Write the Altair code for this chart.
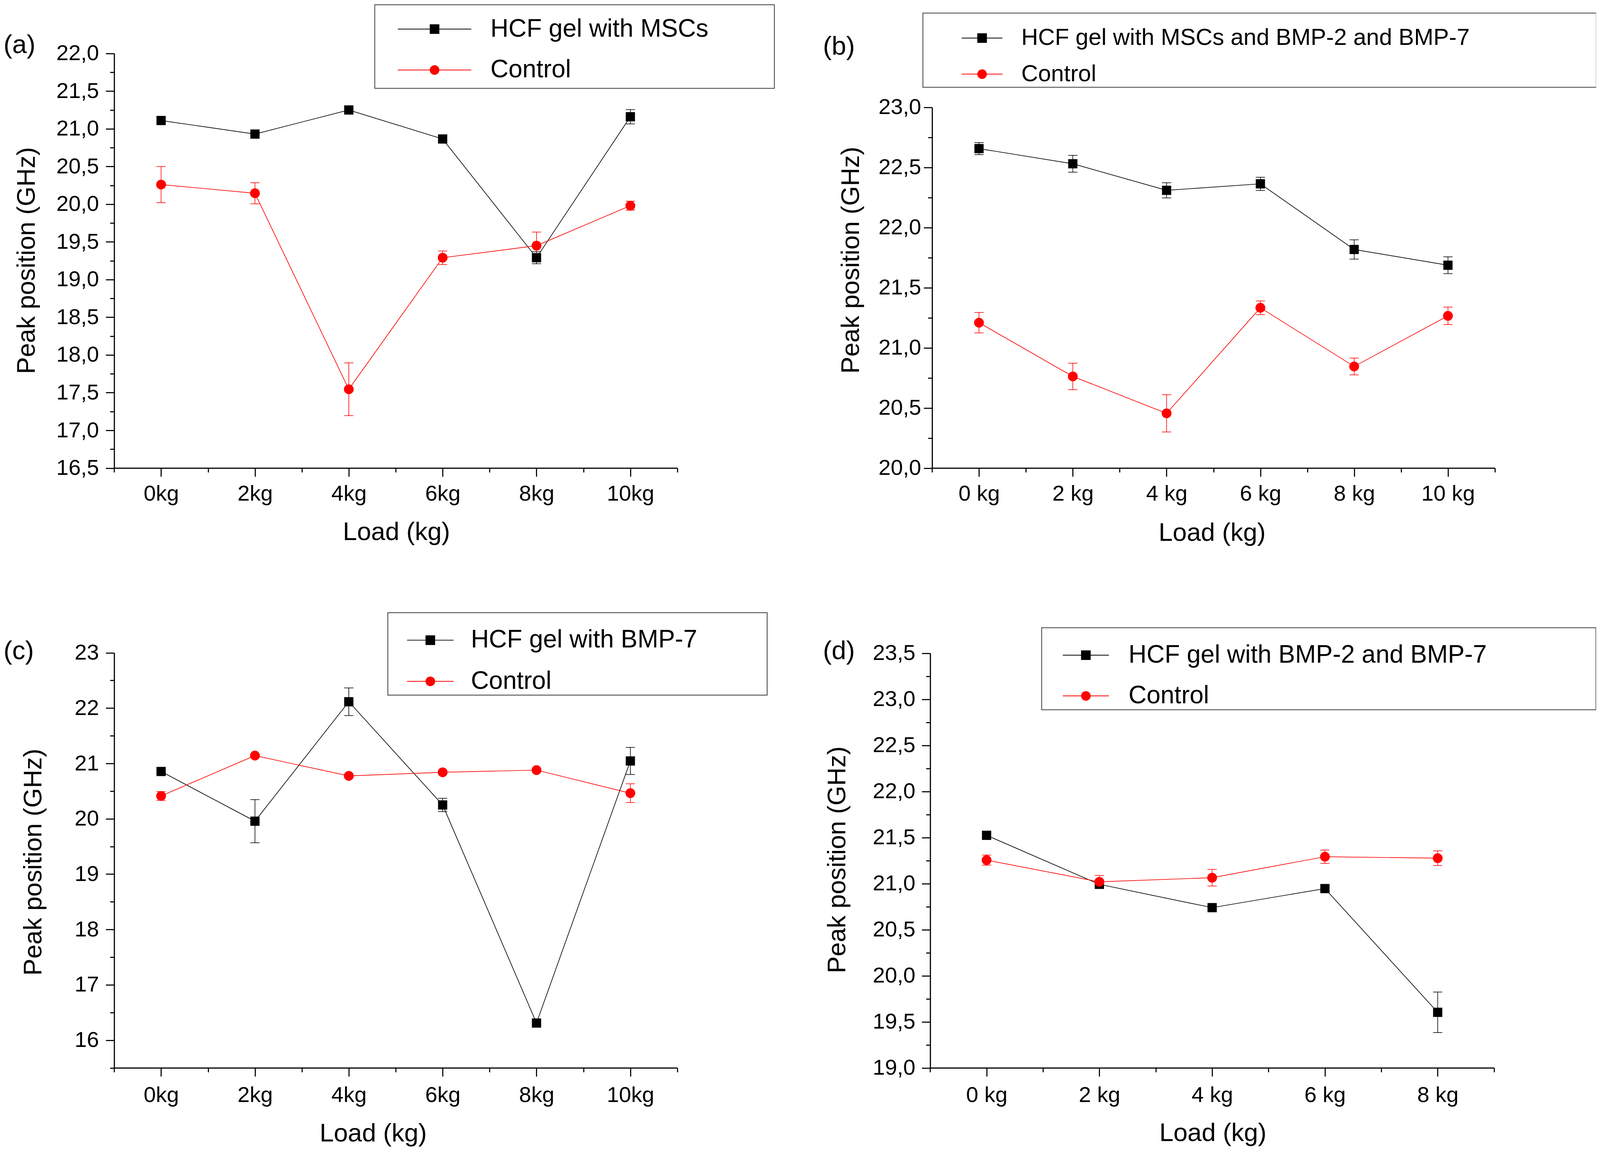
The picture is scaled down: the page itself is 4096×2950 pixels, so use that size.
import altair as alt
import pandas as pd
import numpy as np

S = 0.984
OFF = 6.0
W, H = 4078, 2932
FONT = "Liberation Sans"


def T(v):
    return round(S * v - OFF, 2)


def L(v):
    return round(S * v, 2)


# ---------------- data ----------------
loads_a = [0, 2, 4, 6, 8, 10]
names_a = ["HCF gel with MSCs", "Control"]
treat_a = [21.11, 20.93, 21.25, 20.865, 19.29, 21.16]
treat_a_err = [0.03, 0.02, 0.03, 0.03, 0.08, 0.095]
ctrl_a = [20.26, 20.145, 17.545, 19.29, 19.45, 19.98]
ctrl_a_err = [0.24, 0.14, 0.35, 0.09, 0.18, 0.06]

loads_b = [0, 2, 4, 6, 8, 10]
names_b = ["HCF gel with MSCs and BMP-2 and BMP-7", "Control"]
treat_b = [22.657, 22.531, 22.31, 22.364, 21.818, 21.687]
treat_b_err = [0.05, 0.07, 0.063, 0.055, 0.08, 0.07]
ctrl_b = [21.209, 20.762, 20.455, 21.333, 20.845, 21.266]
ctrl_b_err = [0.085, 0.11, 0.155, 0.057, 0.07, 0.073]

loads_c = [0, 2, 4, 6, 8, 10]
names_c = ["HCF gel with BMP-7", "Control"]
treat_c = [20.855, 19.957, 22.115, 20.25, 16.31, 21.045]
treat_c_err = [0.03, 0.39, 0.25, 0.12, 0.03, 0.245]
ctrl_c = [20.413, 21.142, 20.775, 20.84, 20.88, 20.463]
ctrl_c_err = [0.08, 0.03, 0.03, 0.03, 0.03, 0.17]

loads_d = [0, 2, 4, 6, 8]
names_d = ["HCF gel with BMP-2 and BMP-7", "Control"]
treat_d = [21.524, 20.992, 20.739, 20.946, 19.603]
treat_d_err = [0.02, 0.02, 0.02, 0.03, 0.22]
ctrl_d = [21.255, 21.019, 21.064, 21.292, 21.276]
ctrl_d_err = [0.055, 0.07, 0.09, 0.072, 0.08]

tags = ["(a)", "(b)", "(c)", "(d)"]
x_title = "Load (kg)"
y_title = "Peak position (GHz)"
colors = ["#000000", "#ff0000"]

ymaj_a = [round(v, 2) for v in np.arange(16.5, 22.001, 0.5)]
ymin_a = [round(v, 2) for v in np.arange(16.75, 22.0, 0.5)]
ymaj_b = [round(v, 2) for v in np.arange(20.0, 23.001, 0.5)]
ymin_b = [round(v, 2) for v in np.arange(20.25, 23.0, 0.5)]
ymaj_c = [round(v, 2) for v in np.arange(16.0, 23.001, 1.0)]
ymin_c = [round(v, 2) for v in np.arange(15.5, 23.0, 1.0)]
ymaj_d = [round(v, 2) for v in np.arange(19.0, 23.501, 0.5)]
ymin_d = [round(v, 2) for v in np.arange(19.25, 23.5, 0.5)]
xmaj_6 = [0, 2, 4, 6, 8, 10]
xmin_6 = [-1, 1, 3, 5, 7, 9, 11]
xmaj_5 = [0, 2, 4, 6, 8]
xmin_5 = [-1, 1, 3, 5, 7, 9]

COMMA_FMT = "replace(format(datum.value,'.1f'),'.',',')"
INT_FMT = "format(datum.value,'d')"

# ---------------- layout (reference pixels) ----------------
lay_a = dict(xdom=(-1, 11), ydom=(16.5, 22.0), xpx=(295, 1760), ypx=(1216, 137),
             ymaj=ymaj_a, ymin=ymin_a, yfmt=COMMA_FMT, xmaj=xmaj_6, xmin=xmin_6, xunit="kg",
             ylabpad=18, xlabpad=18, ytitle=(88, 675.5), xtitle=(1029, 1403),
             leg=dict(left=973, top=10.5, right=2009, bottom=226, row1=73.7, row2=179,
                      cx=1128.5, lx=1274, f=65, half=95.5))
lay_b = dict(xdom=(-1, 11), ydom=(20.0, 23.0), xpx=(2423, 3887), ypx=(1216, 277.4),
             ymaj=ymaj_b, ymin=ymin_b, yfmt=COMMA_FMT, xmaj=xmaj_6, xmin=xmin_6, xunit=" kg",
             ylabpad=7, xlabpad=18, ytitle=(2232, 674.4), xtitle=(3151, 1405),
             leg=dict(left=2399, top=32, right=4147, bottom=223, row1=97, row2=189.4,
                      cx=2553, lx=2655, f=60.5, half=53))
lay_c = dict(xdom=(-1, 11), ydom=(15.5, 23.0), xpx=(295, 1760), ypx=(2777, 1696.7),
             ymaj=ymaj_c, ymin=ymin_c, yfmt=INT_FMT, xmaj=xmaj_6, xmin=xmin_6, xunit="kg",
             ylabpad=18, xlabpad=22, ytitle=(105, 2241), xtitle=(968.5, 2968),
             leg=dict(left=1007, top=1592.5, right=1990, bottom=1805, row1=1664, row2=1770,
                      cx=1117.5, lx=1223, f=65, half=60.5))
lay_d = dict(xdom=(-1, 9), ydom=(19.0, 23.5), xpx=(2418, 3885), ypx=(2777, 1698),
             ymaj=ymaj_d, ymin=ymin_d, yfmt=COMMA_FMT, xmaj=xmaj_5, xmin=xmin_5, xunit=" kg",
             ylabpad=17, xlabpad=22, ytitle=(2196.7, 2235), xtitle=(3153, 2967),
             leg=dict(left=2708, top=1631.6, right=4147, bottom=1843.4, row1=1703, row2=1808,
                      cx=2823, lx=2934, f=65, half=60))
tag_pos = [(7.0, 136.5), (2139, 140), (7.0, 1713), (2139, 1713.5)]

AX = dict(grid=False, domainColor="black", tickColor="black", labelColor="black",
          titleColor="black", domainWidth=L(3), tickWidth=L(2.8), labelFont=FONT,
          titleFont=FONT, labelFontSize=L(57), titleFontSize=L(66),
          titleFontWeight="normal", labelOverlap=False, labelFlush=False)


def make_legend(lg):
    f = lg["f"]
    Sz = f
    pitch = lg["row2"] - lg["row1"]
    rowpad = pitch - Sz
    a1 = (lg["bottom"] - lg["top"]) - 2 * Sz - rowpad
    a2 = lg["row1"] - lg["top"] - Sz / 2
    pad = max(a1 - a2, 1.0)
    tt = a2 - pad
    tf = 12
    tp = max(tt - tf, 0)
    sym_off = lg["cx"] - lg["left"] - pad - Sz / 2
    lab_off = lg["lx"] - lg["left"] - pad - Sz - sym_off
    m = 11.5
    k = lg["half"] / m
    # invisible move-to point that stretches the legend box to its right edge
    R = (lg["right"] - pad - lg["cx"] - 1.5) / m
    sq_path = f"M{-k:.3f},0H{k:.3f}M-1,-1H1V1H-1ZM{R:.3f},0"
    ci_path = f"M{-k:.3f},0H{k:.3f}M-1,0A1,1,0,1,1,1,0A1,1,0,1,1,-1,0ZM{R:.3f},0"
    legend = alt.Legend(
        orient="none", legendX=T(lg["left"]), legendY=T(lg["top"]), direction="vertical",
        title="\u00a0", titleFontSize=L(tf), titlePadding=L(tp), titleLimit=100000,
        titleFont=FONT, titleAnchor="start",
        padding=L(pad), strokeColor="#3c3c3c", fillColor="#ffffff",
        symbolSize=round((2 * L(m)) ** 2, 1), symbolStrokeWidth=L(2),
        symbolOffset=L(sym_off), symbolOpacity=1,
        symbolFillColor="#000000", symbolStrokeColor="#000000",
        labelOffset=L(lab_off), labelFontSize=L(f), labelFont=FONT,
        labelLimit=100000, labelColor="black", rowPadding=L(rowpad))
    return legend, [sq_path, ci_path]


def make_panel(names, loads, treat, terr, ctrl, cerr, lay):
    rows = []
    for nm, vals, errs in ((names[0], treat, terr), (names[1], ctrl, cerr)):
        for ld, v, e in zip(loads, vals, errs):
            rows.append({"load": ld, "series": nm, "value": v,
                         "lo": round(v - e, 4), "hi": round(v + e, 4)})
    df = pd.DataFrame(rows)

    def xsc():
        return alt.Scale(domain=list(lay["xdom"]), range=[T(lay["xpx"][0]), T(lay["xpx"][1])],
                         nice=False, zero=False)

    def ysc():
        return alt.Scale(domain=list(lay["ydom"]), range=[T(lay["ypx"][0]), T(lay["ypx"][1])],
                         nice=False, zero=False)

    def col():
        return alt.Color("series:N", scale=alt.Scale(domain=names, range=colors), legend=None)

    axis_x = lay["xpx"][0]
    axis_y = lay["ypx"][0]
    xoff = round(T(axis_y) - H, 2)
    yoff = -T(axis_x)

    xaxis = alt.Axis(
        orient="bottom", offset=xoff, values=lay["xmaj"],
        labelExpr=f"datum.value + '{lay['xunit']}'",
        tickSize=L(22), labelPadding=L(lay["xlabpad"]), title=x_title,
        titleX=T(lay["xtitle"][0]), titleY=L(lay["xtitle"][1] - axis_y),
        titleAngle=0, titleAlign="center", titleBaseline="alphabetic", **AX)
    yaxis = alt.Axis(
        orient="left", offset=yoff, values=lay["ymaj"],
        labelExpr=lay["yfmt"],
        tickSize=L(22), labelPadding=L(lay["ylabpad"]), title=y_title,
        titleX=L(lay["ytitle"][0] - axis_x), titleY=T(lay["ytitle"][1]),
        titleAngle=270, titleAlign="center", titleBaseline="alphabetic", **AX)
    xminor = alt.Axis(orient="bottom", offset=xoff, values=lay["xmin"], labels=False,
                      domain=False, grid=False, tickSize=L(11), tickWidth=L(2.8),
                      tickColor="black", title="")
    yminor = alt.Axis(orient="left", offset=yoff, values=lay["ymin"], labels=False,
                      domain=False, grid=False, tickSize=L(11), tickWidth=L(2.8),
                      tickColor="black", title="")

    base = alt.Chart(df)

    def xq():
        return alt.X("load:Q", scale=xsc(), axis=None)

    def yf(field):
        return alt.Y(f"{field}:Q", scale=ysc(), axis=None)

    layers = []
    layers.append(base.mark_line(strokeWidth=L(1.7)).encode(
        x=alt.X("load:Q", scale=xsc(), axis=xaxis),
        y=alt.Y("value:Q", scale=ysc(), axis=yaxis), color=col()))
    layers.append(base.transform_filter("false").mark_point(opacity=0).encode(
        x=alt.X("load:Q", scale=xsc(), axis=xminor),
        y=alt.Y("value:Q", scale=ysc(), axis=yminor)))
    layers.append(base.mark_rule(strokeWidth=L(1.6)).encode(
        x=xq(), y=yf("lo"), y2="hi:Q", color=col()))
    for fld in ("lo", "hi"):
        layers.append(base.mark_point(shape="stroke", size=round(L(24) ** 2, 1),
                                      strokeWidth=L(1.6), opacity=1, filled=False).encode(
            x=xq(), y=yf(fld), color=col()))
    layers.append(base.transform_filter(alt.datum.series == names[0]).mark_point(
        shape="square", filled=True, size=round(L(24) ** 2, 1), opacity=1).encode(
        x=xq(), y=yf("value"), color=col()))
    layers.append(base.transform_filter(alt.datum.series == names[1]).mark_point(
        shape="circle", filled=True, size=round(L(25.5) ** 2, 1), opacity=1).encode(
        x=xq(), y=yf("value"), color=col()))

    legend, paths = make_legend(lay["leg"])
    layers.append(base.transform_filter("false").mark_point(filled=True).encode(
        shape=alt.Shape("series:N", scale=alt.Scale(domain=names, range=paths), legend=legend),
        fill=alt.Fill("series:N", scale=alt.Scale(domain=names, range=colors), legend=legend),
        stroke=alt.Stroke("series:N", scale=alt.Scale(domain=names, range=colors), legend=legend)))
    return layers


all_layers = []
all_layers += make_panel(names_a, loads_a, treat_a, treat_a_err, ctrl_a, ctrl_a_err, lay_a)
all_layers += make_panel(names_b, loads_b, treat_b, treat_b_err, ctrl_b, ctrl_b_err, lay_b)
all_layers += make_panel(names_c, loads_c, treat_c, treat_c_err, ctrl_c, ctrl_c_err, lay_c)
all_layers += make_panel(names_d, loads_d, treat_d, treat_d_err, ctrl_d, ctrl_d_err, lay_d)

for tag, (tx, ty) in zip(tags, tag_pos):
    all_layers.append(
        alt.Chart(pd.DataFrame({"tag": [tag]})).mark_text(
            align="left", baseline="alphabetic", fontSize=L(68), font=FONT, color="black"
        ).encode(x=alt.value(T(tx)), y=alt.value(T(ty)), text="tag:N"))

chart = alt.layer(*all_layers).resolve_scale(
    x="independent", y="independent", color="independent", fill="independent",
    stroke="independent", shape="independent"
).resolve_axis(x="independent", y="independent").properties(
    width=W, height=H, padding=0, autosize=alt.AutoSizeParams(type="none")
).configure(font=FONT).configure_view(stroke="transparent").configure_legend(strokeWidth=2)

chart.save("out.html", embed_options={"renderer": "svg", "actions": False})
